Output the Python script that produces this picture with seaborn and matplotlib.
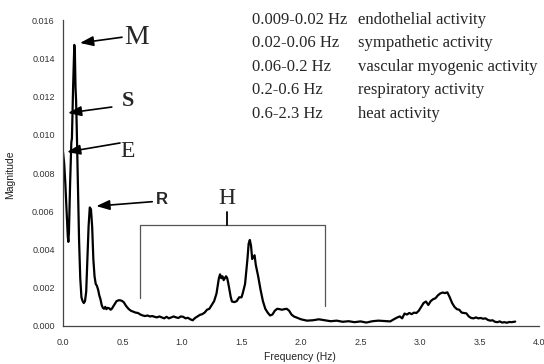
import numpy as np
import pandas as pd
import seaborn as sns
import matplotlib.pyplot as plt

# spectrum
freq = [0.0, 0.01, 0.02, 0.03, 0.04, 0.045, 0.05, 0.06, 0.07, 0.075, 0.085, 0.095, 0.1,
        0.105, 0.11, 0.115, 0.125, 0.135, 0.145, 0.155, 0.165, 0.175, 0.185, 0.195, 0.205,
        0.215, 0.225, 0.235, 0.245, 0.255, 0.265, 0.275, 0.285, 0.295, 0.305, 0.315, 0.325,
        0.335, 0.345, 0.355, 0.365, 0.375, 0.39, 0.40, 0.41, 0.43, 0.45, 0.47, 0.49, 0.51,
        0.53, 0.55, 0.57, 0.59, 0.61, 0.63, 0.65, 0.67, 0.69, 0.71, 0.73, 0.75, 0.77, 0.79,
        0.81, 0.83, 0.85, 0.87, 0.89, 0.91, 0.93, 0.95, 0.97, 0.99, 1.01, 1.03, 1.05, 1.07,
        1.09, 1.11, 1.13, 1.15, 1.17, 1.19, 1.21, 1.23, 1.25, 1.27, 1.29, 1.31, 1.32, 1.33,
        1.34, 1.35, 1.36, 1.37, 1.38, 1.39, 1.41, 1.42, 1.44, 1.46, 1.48, 1.50, 1.51, 1.53,
        1.55, 1.56, 1.57, 1.58, 1.59, 1.60, 1.61, 1.62, 1.64, 1.66, 1.68, 1.70, 1.72, 1.74,
        1.76, 1.78, 1.80, 1.82, 1.84, 1.86, 1.88, 1.90, 1.92, 1.94, 1.96, 1.98, 2.00, 2.05,
        2.10, 2.15, 2.20, 2.25, 2.30, 2.35, 2.40, 2.45, 2.50, 2.55, 2.60, 2.65, 2.70, 2.75,
        2.78, 2.81, 2.83, 2.85, 2.87, 2.89, 2.91, 2.93, 2.95, 2.97, 2.99, 3.01, 3.03, 3.05,
        3.07, 3.09, 3.11, 3.13, 3.15, 3.17, 3.19, 3.21, 3.23, 3.25, 3.27, 3.29, 3.31, 3.33,
        3.35, 3.37, 3.39, 3.41, 3.43, 3.45, 3.47, 3.49, 3.51, 3.53, 3.55, 3.57, 3.59, 3.61,
        3.63, 3.65, 3.67, 3.69, 3.71, 3.73, 3.75, 3.77, 3.80]
magnitude = [0.0091, 0.0085, 0.0074, 0.006, 0.0047, 0.0044, 0.0049, 0.0075, 0.0096, 0.0098,
             0.0125, 0.0147, 0.0143, 0.0125, 0.0118, 0.0105, 0.0075, 0.0045, 0.0025, 0.0015,
             0.0013, 0.0012, 0.0013, 0.0018, 0.0035, 0.0052, 0.0062, 0.0061, 0.0052, 0.0035,
             0.0026, 0.0022, 0.0021, 0.0019, 0.0016, 0.0014, 0.0011, 0.00095, 0.0009, 0.001,
             0.00088, 0.00095, 0.00092, 0.00085, 0.0009, 0.0011, 0.0013, 0.00135, 0.00133,
             0.00125, 0.00105, 0.0009, 0.0008, 0.00075, 0.0007, 0.00068, 0.0006, 0.00055,
             0.00052, 0.00055, 0.0005, 0.00052, 0.00048, 0.00045, 0.0005, 0.00045, 0.0004,
             0.00048, 0.0004, 0.00045, 0.0005, 0.00045, 0.00042, 0.0005, 0.00048, 0.0004,
             0.00043, 0.00035, 0.0003, 0.00042, 0.0005, 0.00058, 0.00062, 0.0007, 0.00085,
             0.0009, 0.0011, 0.0013, 0.0017, 0.0025, 0.0027, 0.0025, 0.0026, 0.0024, 0.0025,
             0.0026, 0.0025, 0.0022, 0.0015, 0.00128, 0.00125, 0.0013, 0.0015, 0.0015, 0.0017,
             0.0022, 0.0035, 0.0043, 0.0045, 0.0042, 0.0035, 0.0036, 0.0037, 0.0032, 0.0026,
             0.0019, 0.0013, 0.0009, 0.0007, 0.00055, 0.0006, 0.0008, 0.0009, 0.00088, 0.00085,
             0.00088, 0.0009, 0.0008, 0.0006, 0.0005, 0.00045, 0.0004, 0.00035, 0.00028, 0.0003,
             0.00035, 0.0003, 0.00025, 0.00028, 0.00022, 0.00025, 0.0002, 0.00024, 0.00018,
             0.00025, 0.00028, 0.00026, 0.00024, 0.00035, 0.00045, 0.0005, 0.0004, 0.00065,
             0.0006, 0.00068, 0.00062, 0.0007, 0.00068, 0.0008, 0.001, 0.0012, 0.00128, 0.0011,
             0.0013, 0.0014, 0.00145, 0.0016, 0.0017, 0.00175, 0.00172, 0.00176, 0.0015, 0.0012,
             0.001, 0.00088, 0.00085, 0.0007, 0.00068, 0.00066, 0.0005, 0.00042, 0.0004,
             0.00045, 0.0004, 0.00042, 0.00038, 0.0004, 0.00032, 0.00028, 0.0003, 0.00022,
             0.0002, 0.00024, 0.00018, 0.0002, 0.00017, 0.00021, 0.0002, 0.00023]

bands = ['0.009-0.02 Hz', '0.02-0.06 Hz', '0.06-0.2 Hz', '0.2-0.6 Hz', '0.6-2.3 Hz']
activities = ['endothelial activity', 'sympathetic activity', 'vascular myogenic activity',
              'respiratory activity', 'heat activity']

x_ticks = [0.0, 0.5, 1.0, 1.5, 2.0, 2.5, 3.0, 3.5, 4.0]
y_ticks = [0.000, 0.002, 0.004, 0.006, 0.008, 0.010, 0.012, 0.014, 0.016]

df = pd.DataFrame({'Frequency (Hz)': freq, 'Magnitude': magnitude})

sns.set_style('white')
plt.rcParams['font.family'] = ['Liberation Sans', 'DejaVu Sans']

fig = plt.figure(figsize=(5.44, 3.64), dpi=100)
ax = fig.add_axes([0.1158, 0.1044, 0.875, 0.8406])

sns.lineplot(data=df, x='Frequency (Hz)', y='Magnitude', color='black', linewidth=1.6,
             estimator=None, sort=False, ax=ax)

ax.set_xlim(0, 4)
ax.set_ylim(0, 0.016)
ax.set_xticks(x_ticks)
ax.set_xticklabels([f'{t:.1f}' for t in x_ticks])
ax.set_yticks(y_ticks)
ax.set_yticklabels([f'{t:.3f}' for t in y_ticks])
ax.tick_params(axis='both', labelsize=6.5, labelcolor='#333333', length=3, width=0.8,
               direction='out', pad=3, color='#444444')
ax.tick_params(axis='x', pad=6)
sns.despine(ax=ax)
for s in ['left', 'bottom']:
    ax.spines[s].set_color('#444444')
    ax.spines[s].set_linewidth(0.9)

ax.set_xlabel('Frequency (Hz)', fontsize=7.5, color='#222222')
ax.set_ylabel('Magnitude', fontsize=7.5, color='#222222')
ax.xaxis.set_label_coords(0.498, -0.086)
ax.yaxis.set_label_coords(-0.101, 0.493)

# H bracket
ax.plot([0.65, 0.65, 2.2, 2.2], [0.00146, 0.00529, 0.00529, 0.00105], color='#555555',
        linewidth=0.9, clip_on=False)
ax.plot([1.375, 1.375], [0.00529, 0.00598], color='black', linewidth=1.3)

serif = ['Liberation Serif', 'DejaVu Serif']
arrow = dict(arrowstyle='-|>,head_length=0.8,head_width=0.3', color='black', lw=1.2,
             shrinkA=0, shrinkB=0)
ax.annotate('', xy=(0.143, 0.0148), xytext=(0.496, 0.0151), arrowprops=arrow)
ax.annotate('', xy=(0.042, 0.01114), xytext=(0.41, 0.01145), arrowprops=arrow)
ax.annotate('', xy=(0.034, 0.0091), xytext=(0.479, 0.00957), arrowprops=arrow)
ax.annotate('', xy=(0.28, 0.00627), xytext=(0.75, 0.0065), arrowprops=arrow)

ax.text(0.622, 0.01506, 'M', family=serif, fontsize=20, ha='center', va='center')
ax.text(0.546, 0.01176, 'S', family=serif, fontsize=16, fontweight='bold', ha='center', va='center')
ax.text(0.546, 0.0091, 'E', family=serif, fontsize=17, ha='center', va='center')
ax.text(0.832, 0.00664, 'R', fontsize=12, fontweight='bold', ha='center', va='center')
ax.text(1.378, 0.00669, 'H', family=serif, fontsize=17, ha='center', va='center')

row_y = [0.0160, 0.0148, 0.01355, 0.01235, 0.0111]
for yy, b, a in zip(row_y, bands, activities):
    ax.text(1.588, yy, b, family=serif, fontsize=12, ha='left', va='center')
    ax.text(2.479, yy, a, family=serif, fontsize=12, ha='left', va='center')

fig.savefig('out.png', dpi=100)
